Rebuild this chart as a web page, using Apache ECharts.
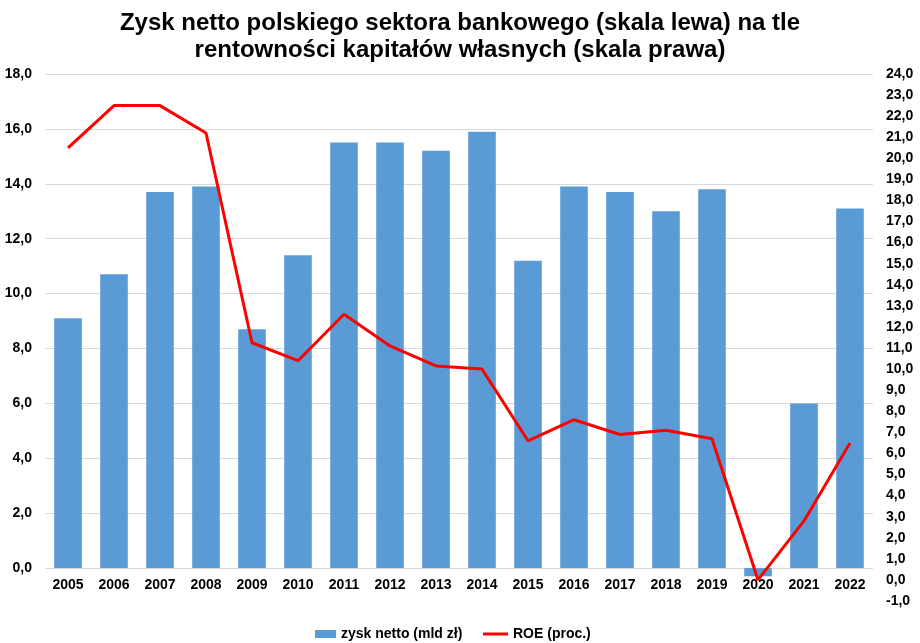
<!DOCTYPE html>
<html>
<head>
<meta charset="utf-8">
<script src="https://cdn.jsdelivr.net/npm/echarts@6/dist/echarts.min.js"></script>
<style>html,body{margin:0;padding:0;background:#fff}#c{width:920px;height:643px}</style>
</head>
<body>
<div id="c"></div>
<script>
var years = ['2005','2006','2007','2008','2009','2010','2011','2012','2013','2014','2015','2016','2017','2018','2019','2020','2021','2022'];
var zysk = [9.1, 10.7, 13.7, 13.9, 8.7, 11.4, 15.5, 15.5, 15.2, 15.9, 11.2, 13.9, 13.7, 13.0, 13.8, -0.3, 6.0, 13.1];
var roe = [20.5, 22.5, 22.5, 21.2, 11.25, 10.4, 12.6, 11.1, 10.15, 10.0, 6.6, 7.6, 6.9, 7.1, 6.7, 0.0, 2.8, 6.5];
var leftTicks = [0, 2, 4, 6, 8, 10, 12, 14, 16, 18];
var seriesNames = ['zysk netto (mld zł)', 'ROE (proc.)'];
var titleText = 'Zysk netto polskiego sektora bankowego (skala lewa) na tle\nrentowności kapitałów własnych (skala prawa)';

var fmt = function (v) { return v.toFixed(1).replace('.', ','); };
var font = 'Liberation Sans, Arial, sans-serif';
var lblStyle = { fontFamily: font, fontSize: 14, fontWeight: 'bold', color: '#000' };
var chart = echarts.init(document.getElementById('c'));
chart.setOption({
  animation: false,
  title: {
    text: titleText, left: 'center', top: 5,
    textStyle: { fontFamily: font, fontSize: 24, fontWeight: 'bold', color: '#000', lineHeight: 27 }
  },
  legend: [
    {
      left: 310, top: 622, itemGap: 0,
      textStyle: lblStyle,
      data: [{ name: seriesNames[0], icon: 'rect' }],
      itemWidth: 21, itemHeight: 8
    },
    {
      left: 478, top: 622, itemGap: 0,
      textStyle: lblStyle,
      data: [{ name: seriesNames[1], icon: 'rect' }],
      itemWidth: 25, itemHeight: 3
    }
  ],
  grid: { left: 45, right: 47, top: 74, bottom: 42 },
  xAxis: {
    type: 'category', data: years,
    axisLine: { show: false },
    axisTick: { show: false },
    axisLabel: Object.assign({ margin: -23 }, lblStyle)
  },
  yAxis: [
    {
      type: 'value', min: -1.2, max: 18,
      axisLine: { show: false },
      axisTick: { show: false, customValues: leftTicks },
      axisLabel: Object.assign({ customValues: leftTicks, formatter: fmt, margin: 13 }, lblStyle),
      splitLine: { show: true, lineStyle: { color: '#d9d9d9', width: 1 } }
    },
    {
      type: 'value', min: -1, max: 24, interval: 1,
      axisLine: { show: false }, axisTick: { show: false },
      axisLabel: Object.assign({ formatter: fmt, margin: 13 }, lblStyle),
      splitLine: { show: false }
    }
  ],
  series: [
    {
      name: seriesNames[0], type: 'bar', data: zysk, yAxisIndex: 0,
      barCategoryGap: '40%',
      itemStyle: { color: '#5b9bd5' }
    },
    {
      name: seriesNames[1], type: 'line', data: roe, yAxisIndex: 1,
      symbol: 'none', lineStyle: { color: '#ff0000', width: 3 }, itemStyle: { color: '#ff0000' }
    }
  ]
});
</script>
</body>
</html>
